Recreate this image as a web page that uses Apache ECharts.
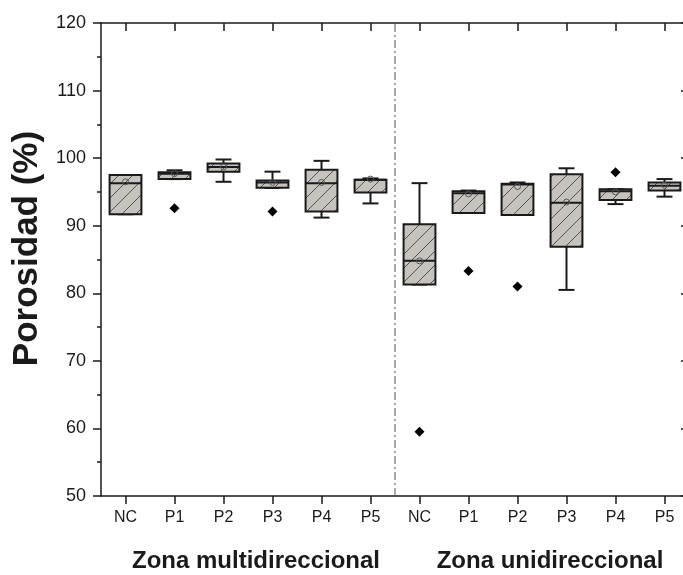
<!DOCTYPE html>
<html>
<head>
<meta charset="utf-8">
<title>Porosidad</title>
<script src="https://cdn.jsdelivr.net/npm/echarts@6/dist/echarts.min.js"></script>
<style>
	html, body { margin: 0; padding: 0; background: #fff; overflow: hidden; }
	#myBoxChart { width: 683px; height: 575px; }
</style>
</head>
<body>
<div id="myBoxChart"></div>
<script>
	// categorias (dos zonas, 6 grupos cada una)
	var categories = ['NC', 'P1', 'P2', 'P3', 'P4', 'P5', 'NC', 'P1', 'P2', 'P3', 'P4', 'P5'];
	var zoneNames = ['Zona multidireccional', 'Zona unidireccional'];

	// valores (%)
	var minVals    = [91.7, 96.9, 96.5, 95.6, 91.2, 93.3, 81.3, 91.9, 91.6, 80.5, 93.2, 94.3];
	var q1Vals     = [91.7, 96.9, 98.0, 95.6, 92.1, 94.9, 81.3, 91.9, 91.6, 86.9, 93.8, 95.2];
	var medianVals = [96.3, 97.7, 98.7, 96.4, 96.3, 96.8, 84.8, 94.8, 96.1, 93.4, 95.1, 95.9];
	var q3Vals     = [97.5, 97.9, 99.2, 96.7, 98.3, 96.8, 90.2, 95.1, 96.2, 97.6, 95.4, 96.4];
	var maxVals    = [97.5, 98.2, 99.8, 98.0, 99.6, 97.0, 96.3, 95.2, 96.4, 98.5, 95.4, 96.9];
	var meanVals   = [96.5, 97.7, 98.7, 96.4, 96.4, 96.9, 84.8, 94.7, 95.8, 93.5, 95.0, 96.0];

	// valores atipicos
	var outlierIdx  = [1, 3, 6, 7, 8, 10];
	var outlierVals = [92.6, 92.1, 59.5, 83.3, 81.0, 97.9];

	// linea separadora entre zonas (posicion en el eje auxiliar 0..12)
	var separatorX = 6;
	var yRange = [50, 120];

	// patron rayado para las cajas
	var tileSize = 14;
	var tile = document.createElement('canvas');
	tile.width = tileSize;
	tile.height = tileSize;
	var ctx = tile.getContext('2d');
	ctx.fillStyle = '#c6c3be';
	ctx.fillRect(0, 0, tileSize, tileSize);
	ctx.strokeStyle = '#55524e';
	ctx.lineWidth = 1;
	ctx.beginPath();
	ctx.moveTo(-1, tileSize + 1);
	ctx.lineTo(tileSize + 1, -1);
	ctx.moveTo(-1, 1);
	ctx.lineTo(1, -1);
	ctx.moveTo(tileSize - 1, tileSize + 1);
	ctx.lineTo(tileSize + 1, tileSize - 1);
	ctx.stroke();
	var hatch = { image: tile, repeat: 'repeat' };

	var boxData = [];
	for (var i = 0; i < categories.length; i++) {
		boxData.push([i, minVals[i], q1Vals[i], medianVals[i], q3Vals[i], maxVals[i]]);
	}
	var meanData = meanVals.map(function (v, i) { return [i, v]; });
	var outlierData = outlierIdx.map(function (idx, k) { return [idx, outlierVals[k]]; });

	function renderBox(params, api) {
		var idx = api.value(0);
		var lo = api.coord([idx, api.value(1)]);
		var q1 = api.coord([idx, api.value(2)]);
		var med = api.coord([idx, api.value(3)]);
		var q3 = api.coord([idx, api.value(4)]);
		var hi = api.coord([idx, api.value(5)]);
		var bw = api.size([1, 0])[0] * 0.65;
		var cap = bw / 4;
		var x = lo[0];
		var ls = { stroke: '#1a1a1a', lineWidth: 2 };
		return {
			type: 'group',
			children: [
				{ type: 'line', shape: { x1: x, y1: hi[1], x2: x, y2: q3[1] }, style: ls },
				{ type: 'line', shape: { x1: x, y1: q1[1], x2: x, y2: lo[1] }, style: ls },
				{ type: 'line', shape: { x1: x - cap, y1: hi[1], x2: x + cap, y2: hi[1] }, style: ls },
				{ type: 'line', shape: { x1: x - cap, y1: lo[1], x2: x + cap, y2: lo[1] }, style: ls },
				{
					type: 'rect',
					shape: { x: x - bw / 2, y: q3[1], width: bw, height: q1[1] - q3[1] },
					style: { fill: hatch, stroke: '#1a1a1a', lineWidth: 2 }
				},
				{ type: 'line', shape: { x1: x - bw / 2, y1: med[1], x2: x + bw / 2, y2: med[1] }, style: ls }
			]
		};
	}

	var axisLine = { show: true, lineStyle: { color: '#1a1a1a', width: 1.5 } };

	var option = {
		backgroundColor: '#fff',
		animation: false,
		// el marco derecho queda fuera de la imagen, como en el original
		grid: { left: 101, width: 588, top: 23, bottom: 79, outerBoundsMode: 'none', containLabel: false },
		xAxis: [{
			type: 'category',
			position: 'bottom',
			data: categories,
			axisLine: axisLine,
			axisTick: { show: true, alignWithLabel: true, length: 8, inside: false, lineStyle: { color: '#1a1a1a', width: 1.5 } },
			axisLabel: { fontSize: 16, margin: 14, color: '#1a1a1a', fontFamily: 'Liberation Sans', interval: 0 },
			splitLine: { show: false }
		}, {
			type: 'category',
			position: 'top',
			data: categories,
			axisLine: axisLine,
			axisTick: { show: true, alignWithLabel: true, length: 8, inside: true, lineStyle: { color: '#1a1a1a', width: 1.5 } },
			axisLabel: { show: false },
			splitLine: { show: false }
		}, {
			type: 'value',
			min: 0,
			max: 12,
			show: false
		}, {
			type: 'category',
			position: 'bottom',
			offset: 45,
			data: zoneNames,
			axisLine: { show: false },
			axisTick: { show: false },
			axisLabel: {
				interval: 0, hideOverlap: false,
				fontSize: 24, fontWeight: 'bold', margin: 8, color: '#1a1a1a',
				fontFamily: 'Liberation Sans', padding: [0, 0, 0, 16]
			}
		}],
		yAxis: [{
			type: 'value',
			position: 'left',
			min: yRange[0],
			max: yRange[1],
			interval: 10,
			name: 'Porosidad (%)',
			nameLocation: 'middle',
			nameGap: 52,
			nameTextStyle: {
				fontSize: 35, fontWeight: 'bold', color: '#1a1a1a',
				fontFamily: 'Liberation Sans', padding: [0, 0, 0, 22]
			},
			axisLine: axisLine,
			axisTick: { show: true, length: 8, inside: false, lineStyle: { color: '#1a1a1a', width: 1.5 } },
			minorTick: { show: true, splitNumber: 2, length: 4, lineStyle: { color: '#1a1a1a', width: 1.5 } },
			axisLabel: { fontSize: 18, margin: 15, color: '#1a1a1a', fontFamily: 'Liberation Sans' },
			splitLine: { show: false }
		}, {
			type: 'value',
			position: 'right',
			min: yRange[0],
			max: yRange[1],
			interval: 10,
			axisLine: axisLine,
			axisTick: { show: true, length: 8, inside: true, lineStyle: { color: '#1a1a1a', width: 1.5 } },
			minorTick: { show: true, splitNumber: 2, length: 4, lineStyle: { color: '#1a1a1a', width: 1.5 } },
			axisLabel: { show: false },
			splitLine: { show: false }
		}],
		series: [{
			// separador entre zonas
			type: 'line',
			xAxisIndex: 2,
			yAxisIndex: 0,
			data: [[separatorX, yRange[0]], [separatorX, yRange[1]]],
			symbol: 'none',
			silent: true,
			lineStyle: { color: '#555', width: 1, type: [8, 3, 2, 3] }
		}, {
			type: 'custom',
			xAxisIndex: 0,
			yAxisIndex: 0,
			renderItem: renderBox,
			encode: { x: 0, y: [1, 2, 3, 4, 5] },
			data: boxData
		}, {
			// media
			type: 'scatter',
			xAxisIndex: 0,
			yAxisIndex: 0,
			data: meanData,
			symbol: 'circle',
			symbolSize: 6,
			itemStyle: { color: 'rgba(0,0,0,0)', borderColor: '#555', borderWidth: 1, opacity: 1 },
			z: 5
		}, {
			// atipicos
			type: 'scatter',
			xAxisIndex: 0,
			yAxisIndex: 0,
			data: outlierData,
			symbol: 'diamond',
			symbolSize: 10,
			itemStyle: { color: '#000', opacity: 1 },
			z: 5
		}]
	};

	var myChart = echarts.init(document.getElementById('myBoxChart'));
	myChart.setOption(option);
</script>
</body>
</html>
